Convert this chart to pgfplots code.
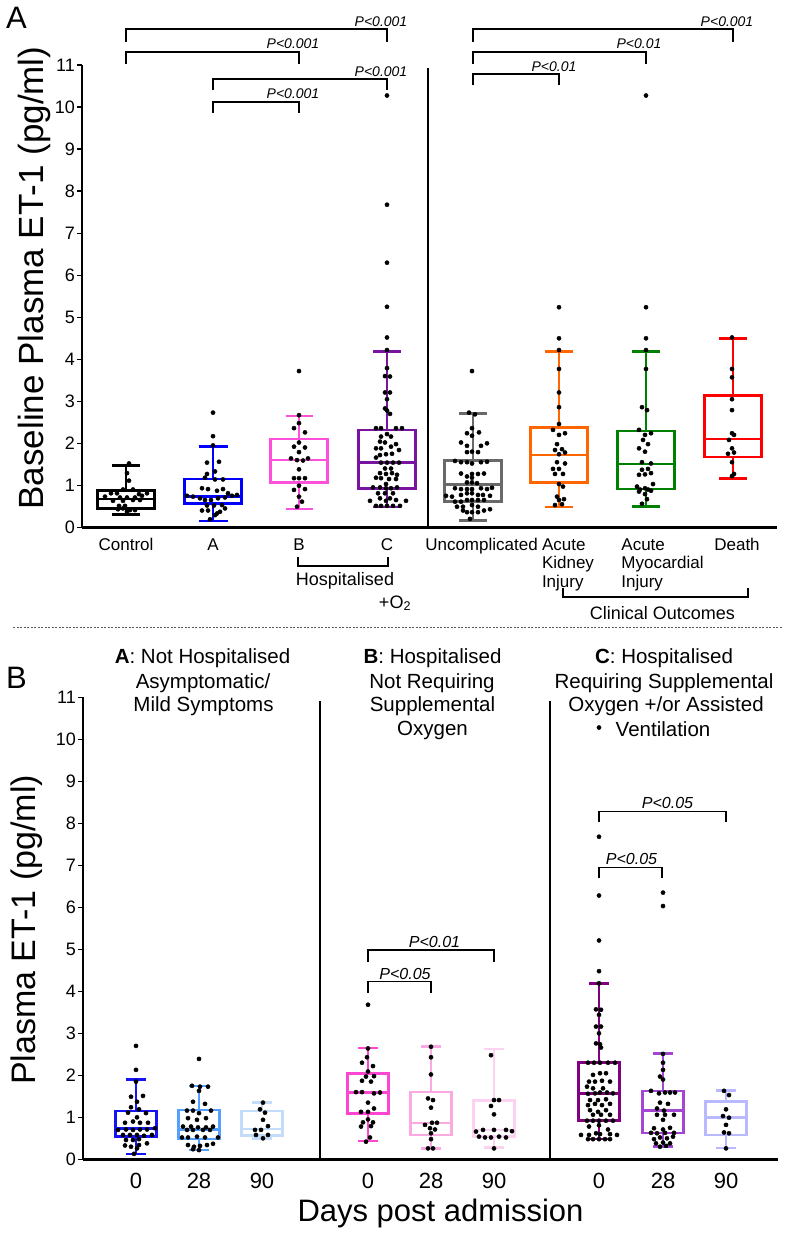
\documentclass[border=0pt]{standalone}
\usepackage{pgfplots}
\pgfplotsset{compat=1.18}
\usepackage{fontspec}
\setmainfont{Liberation Sans}
\newcommand{\fs}[2]{\fontsize{#1}{#2}\selectfont}
\definecolor{cA}{RGB}{0,0,255}
\definecolor{cB}{RGB}{255,80,220}
\definecolor{cC}{RGB}{120,20,160}
\definecolor{cUnc}{RGB}{105,105,105}
\definecolor{cAKI}{RGB}{255,102,0}
\definecolor{cAMI}{RGB}{0,128,0}
\definecolor{cDeath}{RGB}{255,0,0}
\definecolor{cAa}{RGB}{20,20,245}
\definecolor{cAb}{RGB}{85,160,255}
\definecolor{cAc}{RGB}{195,220,250}
\definecolor{cBa}{RGB}{255,70,210}
\definecolor{cBb}{RGB}{250,170,225}
\definecolor{cBc}{RGB}{252,210,240}
\definecolor{cCa}{RGB}{128,0,128}
\definecolor{cCb}{RGB}{165,70,210}
\definecolor{cCc}{RGB}{185,185,255}
\pgfplotsset{
  panel/.style={scale only axis, width=695pt, height=462pt, ymin=0, ymax=11,
    ytick={0,1,...,11}, axis x line*=bottom, axis y line*=left,
    axis line style={line width=2.5pt}, tick align=outside, major tick length=5pt,
    ytick style={line width=1.6pt, black}, xtick style={draw=none}, clip=false,
    /pgf/number format/assume math mode=true,
    yticklabel style={font=\fs{18}{20}, inner sep=2pt}},
  pts/.style={only marks, mark=*, mark size=2.1pt, black, mark options={solid, fill=black, draw=none}},
}
% box: #1 colour, #2 position, #3 box half width, #4 cap half width,
% #5 lower whisker, #6 lower quartile, #7 median, #8 upper quartile, #9 upper whisker
\newcommand{\bx}[9]{%
  \pgfmathsetmacro\bxL{#2-#3}\pgfmathsetmacro\bxR{#2+#3}%
  \pgfmathsetmacro\bxCL{#2-#4}\pgfmathsetmacro\bxCR{#2+#4}%
  \addplot[draw=#1, line width=2.6pt, line join=miter, line cap=rect, mark=none] coordinates {(\bxL,#6)(\bxR,#6)(\bxR,#8)(\bxL,#8)(\bxL,#6)};
  \addplot[draw=#1, line width=2.6pt, mark=none] coordinates {(\bxL,#7)(\bxR,#7)};
  \addplot[draw=#1, line width=2.6pt, mark=none] coordinates {(#2,#8)(#2,#9)};
  \addplot[draw=#1, line width=2.6pt, mark=none] coordinates {(#2,#6)(#2,#5)};
  \addplot[draw=#1, line width=2.6pt, mark=none] coordinates {(\bxCL,#9)(\bxCR,#9)};
  \addplot[draw=#1, line width=2.6pt, mark=none] coordinates {(\bxCL,#5)(\bxCR,#5)};
}
\begin{document}
\begin{tikzpicture}
\useasboundingbox (0pt,0pt) rectangle (787pt,-1233pt);
% ---------------- Panel A ----------------
\begin{axis}[panel, at={(82pt,-527.3pt)}, anchor=south west, xmin=82, xmax=777,
  xtick={126,213,299,387,473,559,646,733},
  xticklabels={Control, A, B, C, {\hspace*{17pt}Uncomplicated},
    {\hspace*{18pt}Acute\\\hspace*{18pt}Kidney\\\hspace*{18pt}Injury},
    {\hspace*{33pt}Acute\\\hspace*{33pt}Myocardial\\\hspace*{33pt}Injury},
    {\hspace*{8pt}Death}},
  xticklabel style={font=\fs{17}{18.5}, align=left, anchor=north, inner sep=0pt, yshift=-6pt}]
\bx{black}{126}{28.3}{14}{0.31}{0.45}{0.67}{0.87}{1.47}
\bx{cA}{213}{28.5}{14.5}{0.15}{0.57}{0.73}{1.15}{1.92}
\bx{cB}{299}{28.3}{13.5}{0.44}{1.06}{1.60}{2.10}{2.65}
\bx{cC}{387}{28.5}{14}{0.48}{0.92}{1.55}{2.32}{4.19}
\bx{cUnc}{473}{28.5}{14}{0.16}{0.61}{1.02}{1.59}{2.71}
\bx{cAKI}{559}{28.3}{14}{0.48}{1.07}{1.72}{2.37}{4.19}
\bx{cAMI}{646}{28.3}{14}{0.50}{0.91}{1.51}{2.29}{4.19}
\bx{cDeath}{733}{28.3}{14}{1.16}{1.67}{2.10}{3.14}{4.50}
% Control
\addplot[pts] coordinates {(129,1.52)(127,1.29)(129,1.11)(123,0.90)(133,0.90)(111,0.81)(117,0.81)(139,0.79)(147,0.81)(105,0.73)(120,0.71)(127,0.71)(135,0.71)(142,0.75)(113,0.63)(123,0.63)(133,0.65)(140,0.65)(119,0.51)(125,0.51)(118,0.43)(123,0.45)(130,0.41)(135,0.41)(127,0.37)};
% A
\addplot[pts] coordinates {(213,2.73)(213,2.17)(213,1.95)(207,1.54)(219,1.56)(215,1.33)(207,1.27)(205,1.18)(215,1.14)(223,1.14)(202,0.93)(208,0.91)(217,0.87)(223,0.91)(228,0.81)(187,0.75)(193,0.73)(200,0.69)(205,0.65)(211,0.65)(218,0.69)(225,0.71)(232,0.75)(237,0.77)(207,0.52)(214,0.52)(222,0.53)(202,0.40)(208,0.40)(217,0.33)(225,0.45)(215,0.29)(210,0.19)(220,0.37)};
% B
\addplot[pts] coordinates {(299,3.72)(299,2.67)(299,2.48)(294,2.36)(305,2.26)(299,2.02)(294,1.92)(305,1.90)(299,1.79)(291,1.64)(297,1.60)(303,1.59)(308,1.64)(299,1.38)(294,1.17)(299,1.17)(305,1.17)(299,0.99)(294,0.89)(305,0.91)(299,0.73)(302,0.61)(297,0.49)};
% C
\addplot[pts] coordinates {(387,10.28)(387,7.68)(387,6.30)(387,5.25)(387,4.52)(387,4.22)(387,3.79)(385,3.60)(390,3.59)(385,3.21)(390,3.21)(387,3.05)(385,2.83)(387,2.78)(390,2.70)(376,2.36)(381,2.36)(396,2.36)(402,2.36)(387,2.22)(391,2.16)(381,2.16)(380,2.04)(385,2.02)(396,1.98)(376,1.88)(381,1.88)(391,1.92)(399,1.84)(386,1.74)(380,1.72)(392,1.75)(376,1.66)(381,1.54)(387,1.54)(393,1.54)(399,1.54)(385,1.40)(391,1.40)(380,1.29)(386,1.27)(392,1.29)(397,1.25)(376,1.18)(381,1.17)(389,1.15)(396,1.15)(386,1.03)(373,0.95)(380,0.95)(386,0.93)(391,0.93)(397,0.95)(378,0.81)(385,0.81)(393,0.81)(380,0.69)(390,0.69)(370,0.63)(386,0.63)(396,0.65)(406,0.63)(376,0.51)(381,0.51)(387,0.51)(393,0.51)(400,0.51)};
% Uncomplicated
\addplot[pts] coordinates {(472,3.72)(469,2.73)(475,2.69)(472,2.36)(467,2.24)(472,2.18)(479,2.26)(461,2.02)(467,1.94)(481,1.94)(487,2.00)(472,1.80)(467,1.79)(478,1.79)(455,1.58)(461,1.55)(467,1.55)(472,1.52)(481,1.55)(487,1.56)(461,1.28)(467,1.21)(472,1.27)(478,1.27)(484,1.28)(467,1.07)(472,1.18)(472,1.07)(477,1.05)(455,0.93)(461,0.91)(467,0.91)(472,0.91)(481,0.93)(487,0.91)(492,0.94)(446,0.75)(452,0.73)(461,0.77)(467,0.81)(472,0.81)(478,0.77)(483,0.77)(490,0.75)(455,0.61)(461,0.61)(467,0.65)(472,0.65)(478,0.65)(484,0.65)(457,0.49)(463,0.49)(472,0.53)(478,0.49)(463,0.40)(467,0.36)(472,0.36)(478,0.36)(484,0.40)(490,0.43)(470,0.20)};
% AKI
\addplot[pts] coordinates {(559,5.24)(559,4.50)(559,4.22)(559,3.77)(559,3.21)(559,2.86)(559,2.46)(553,2.32)(559,2.20)(565,2.24)(557,1.98)(555,1.84)(562,1.86)(559,1.74)(565,1.78)(557,1.55)(553,1.39)(559,1.39)(565,1.52)(563,1.27)(555,1.27)(559,1.03)(563,0.97)(557,0.73)(559,0.65)(564,0.67)(555,0.53)(562,0.55)};
% AMI
\addplot[pts] coordinates {(646,10.28)(646,5.24)(646,4.50)(646,4.22)(646,3.77)(642,2.86)(647,2.79)(639,2.32)(645,2.20)(651,2.24)(643,2.08)(648,1.98)(639,1.88)(645,1.80)(642,1.55)(651,1.52)(642,1.37)(648,1.39)(639,1.25)(645,1.26)(651,1.29)(653,1.03)(637,0.97)(640,0.90)(645,0.93)(648,0.90)(651,0.87)(639,0.85)(645,0.79)(647,0.67)(642,0.56)};
% Death
\addplot[pts] coordinates {(732,4.52)(732,3.77)(732,3.57)(732,3.05)(732,2.79)(732,2.24)(734,2.20)(729,2.08)(732,1.88)(734,1.78)(728,1.75)(732,1.55)(734,1.27)(732,1.22)};
% separator
\draw[line width=2.7pt] (axis cs:428,0) -- (axis cs:428,10.93);
% brackets
\begin{scope}[line width=1.4pt]
\draw (axis cs:126,11.56) |- (axis cs:387,11.86) -- (axis cs:387,11.56);
\draw (axis cs:126,11.02) |- (axis cs:299,11.32) -- (axis cs:299,11.02);
\draw (axis cs:213,10.40) |- (axis cs:387,10.67) -- (axis cs:387,10.40);
\draw (axis cs:213,9.86) |- (axis cs:299,10.13) -- (axis cs:299,9.86);
\draw (axis cs:473,11.56) |- (axis cs:733,11.86) -- (axis cs:733,11.56);
\draw (axis cs:473,11.02) |- (axis cs:646,11.32) -- (axis cs:646,11.02);
\draw (axis cs:473,10.52) |- (axis cs:559,10.79) -- (axis cs:559,10.52);
\end{scope}
\node[anchor=base, yshift=3pt, inner sep=0pt, font=\itshape\fs{14}{16}] at (axis cs:381,11.86) {P<0.001};
\node[anchor=base, yshift=3pt, inner sep=0pt, font=\itshape\fs{14}{16}] at (axis cs:293,11.32) {P<0.001};
\node[anchor=base, yshift=3pt, inner sep=0pt, font=\itshape\fs{14}{16}] at (axis cs:381,10.67) {P<0.001};
\node[anchor=base, yshift=3pt, inner sep=0pt, font=\itshape\fs{14}{16}] at (axis cs:293,10.13) {P<0.001};
\node[anchor=base, yshift=3pt, inner sep=0pt, font=\itshape\fs{14}{16}] at (axis cs:727,11.86) {P<0.001};
\node[anchor=base, yshift=3pt, inner sep=0pt, font=\itshape\fs{14}{16}] at (axis cs:639,11.32) {P<0.01};
\node[anchor=base, yshift=3pt, inner sep=0pt, font=\itshape\fs{14}{16}] at (axis cs:554,10.79) {P<0.01};
\end{axis}
% ---------------- Panel B ----------------
\begin{axis}[panel, at={(83pt,-1159.3pt)}, anchor=south west, xmin=83, xmax=778,
  xtick={136,199,262,368,431,494,599,663,726},
  xticklabels={0,28,90,0,28,90,0,28,90},
  xticklabel style={font=\fs{22}{24}, anchor=base, inner sep=0pt, yshift=-24pt}]
\bx{cAa}{136}{20.3}{10}{0.13}{0.54}{0.73}{1.15}{1.90}
\bx{cAb}{199}{20.3}{10}{0.22}{0.48}{0.71}{1.17}{1.75}
\bx{cAc}{262}{20.3}{10}{0.50}{0.57}{0.72}{1.15}{1.35}
\bx{cBa}{368}{20.3}{10}{0.44}{1.09}{1.59}{2.04}{2.65}
\bx{cBb}{431}{20.3}{10}{0.26}{0.58}{0.86}{1.60}{2.68}
\bx{cBc}{494}{20.3}{10}{0.28}{0.54}{0.70}{1.40}{2.63}
\bx{cCa}{599}{20.3}{10}{0.48}{0.92}{1.57}{2.30}{4.19}
\bx{cCb}{663}{20.3}{10}{0.30}{0.63}{1.16}{1.63}{2.52}
\bx{cCc}{726}{20.3}{10}{0.27}{0.58}{1.00}{1.37}{1.64}
% A day 0, 28, 90
\addplot[pts] coordinates {(136,2.70)(136,2.13)(136,1.85)(131,1.49)(143,1.51)(137,1.37)(131,1.24)(139,1.19)(128,1.11)(146,1.10)(137,1.00)(125,0.87)(133,0.90)(140,0.87)(148,0.87)(118,0.70)(126,0.71)(133,0.70)(140,0.71)(147,0.71)(155,0.74)(123,0.58)(130,0.58)(137,0.58)(144,0.56)(152,0.58)(126,0.46)(133,0.46)(139,0.48)(125,0.33)(131,0.30)(139,0.34)(147,0.38)(137,0.26)(134,0.13)};
\addplot[pts] coordinates {(199,2.39)(192,1.75)(200,1.73)(208,1.73)(199,1.63)(193,1.37)(205,1.32)(187,1.16)(193,1.16)(199,1.10)(211,1.16)(188,0.98)(197,0.94)(206,0.98)(183,0.78)(191,0.78)(198,0.76)(206,0.76)(213,0.78)(187,0.70)(193,0.70)(203,0.70)(210,0.70)(182,0.52)(188,0.52)(197,0.54)(205,0.52)(218,0.52)(188,0.34)(194,0.30)(200,0.32)(207,0.34)(213,0.37)(193,0.24)(199,0.22)};
\addplot[pts] coordinates {(263,1.35)(260,1.19)(265,1.11)(263,0.94)(255,0.70)(261,0.70)(268,0.79)(256,0.58)(263,0.50)(268,0.58)};
% B day 0, 28, 90
\addplot[pts] coordinates {(368,3.68)(368,2.64)(367,2.43)(362,2.30)(373,2.22)(368,2.09)(366,1.97)(374,1.98)(362,1.87)(371,1.85)(356,1.60)(362,1.60)(374,1.57)(380,1.59)(368,1.35)(361,1.13)(368,1.13)(374,1.21)(368,0.95)(363,0.88)(373,0.88)(361,0.78)(371,0.79)(370,0.52)(366,0.42)};
\addplot[pts] coordinates {(431,2.68)(431,2.43)(431,2.02)(428,1.45)(433,1.41)(431,1.23)(425,0.82)(432,0.87)(437,0.87)(430,0.74)(435,0.71)(431,0.62)(431,0.48)(428,0.26)(433,0.26)};
\addplot[pts] coordinates {(491,2.48)(494,1.41)(499,1.41)(491,1.27)(494,1.07)(476,0.66)(483,0.70)(494,0.70)(506,0.70)(512,0.67)(479,0.54)(485,0.52)(491,0.52)(499,0.54)(506,0.52)(494,0.26)};
% C day 0, 28, 90
\addplot[pts] coordinates {(599,10.28)(599,7.68)(599,6.28)(599,5.21)(599,4.48)(599,4.19)(596,3.57)(601,3.56)(599,3.44)(596,3.16)(601,3.16)(599,3.00)(596,2.76)(600,2.74)(601,2.66)(588,2.30)(594,2.30)(600,2.30)(608,2.30)(615,2.30)(593,2.01)(600,2.05)(606,2.05)(589,1.85)(595,1.85)(602,1.87)(610,1.85)(587,1.73)(593,1.69)(603,1.69)(588,1.56)(595,1.57)(600,1.59)(607,1.59)(613,1.57)(590,1.41)(598,1.41)(606,1.43)(588,1.29)(595,1.32)(602,1.29)(610,1.32)(590,1.17)(598,1.13)(606,1.17)(593,1.06)(601,1.06)(610,1.06)(587,0.92)(593,0.92)(599,0.92)(606,0.92)(613,0.92)(589,0.78)(599,0.81)(608,0.71)(581,0.58)(589,0.58)(596,0.62)(600,0.60)(610,0.60)(617,0.58)(588,0.48)(593,0.48)(599,0.48)(605,0.48)(610,0.48)};
\addplot[pts] coordinates {(663,6.35)(663,6.03)(663,2.51)(663,2.30)(663,2.13)(660,1.97)(663,1.90)(651,1.63)(659,1.57)(665,1.59)(670,1.59)(675,1.59)(660,1.35)(668,1.32)(657,1.21)(664,1.16)(657,1.06)(665,1.06)(674,1.06)(663,0.94)(654,0.74)(663,0.71)(670,0.75)(651,0.63)(657,0.62)(665,0.63)(674,0.63)(654,0.48)(660,0.52)(667,0.50)(673,0.54)(656,0.38)(663,0.40)(670,0.38)(660,0.30)(666,0.32)};
\addplot[pts] coordinates {(724,1.63)(729,1.53)(726,1.19)(723,1.03)(729,0.99)(726,0.82)(724,0.64)(729,0.62)(726,0.26)};
% separators
\draw[line width=2.7pt] (axis cs:320,0) -- (axis cs:320,10.91);
\draw[line width=2.7pt] (axis cs:550,0) -- (axis cs:550,10.91);
% brackets
\begin{scope}[line width=1.4pt]
\draw (axis cs:368,3.96) |- (axis cs:431,4.23) -- (axis cs:431,3.96);
\draw (axis cs:368,4.70) |- (axis cs:494,4.98) -- (axis cs:494,4.70);
\draw (axis cs:599,6.69) |- (axis cs:662,6.95) -- (axis cs:662,6.69);
\draw (axis cs:599,8.04) |- (axis cs:726,8.28) -- (axis cs:726,8.04);
\end{scope}
\node[anchor=base, yshift=2pt, inner sep=0pt, font=\itshape\fs{16}{18}] at (axis cs:405,4.23) {P<0.05};
\node[anchor=base, yshift=3pt, inner sep=0pt, font=\itshape\fs{16}{18}] at (axis cs:434.5,4.98) {P<0.01};
\node[anchor=base, yshift=3pt, inner sep=0pt, font=\itshape\fs{16}{18}] at (axis cs:631.5,6.95) {P<0.05};
\node[anchor=base, yshift=3pt, inner sep=0pt, font=\itshape\fs{16}{18}] at (axis cs:667.5,8.28) {P<0.05};
\end{axis}
% ---------------- annotations ----------------
\node[anchor=base, font=\fs{31}{34}, inner sep=0pt] at (16.5pt,-29pt) {A};
\node[anchor=base, font=\fs{31}{34}, inner sep=0pt] at (16.5pt,-688pt) {B};
\node[anchor=base, rotate=90, font=\fs{35}{38}, inner sep=0pt] at (43pt,-278pt) {Baseline Plasma ET-1 (pg/ml)};
\node[anchor=base, rotate=90, font=\fs{34}{37}, inner sep=0pt] at (35pt,-930pt) {Plasma ET-1 (pg/ml)};
\node[anchor=base, font=\fs{31}{34}, inner sep=0pt] at (440.5pt,-1221.7pt) {Days post admission};
\draw[line width=1.6pt] (298pt,-556.7pt) |- (388pt,-565.7pt) -- (388pt,-556.7pt);
\node[anchor=base, font=\fs{18}{20}, inner sep=0pt] at (345pt,-585.7pt) {Hospitalised};
\node[anchor=base, font=\fs{18}{20}, inner sep=0pt] at (395pt,-608pt) {+O\textsubscript{2}};
\draw[line width=1.6pt] (562.7pt,-588pt) |- (748pt,-596.7pt) -- (748pt,-588pt);
\node[anchor=base, font=\fs{18}{20}, inner sep=0pt] at (662.5pt,-619pt) {Clinical Outcomes};
\draw[gray!70!black, line width=0.8pt, dash pattern=on 2pt off 1.5pt] (13pt,-627pt) -- (783pt,-627pt);
\node[anchor=base, inner sep=0pt, font=\fs{20.5}{24}] at (202.5pt,-663.3pt) {\textbf{A}: Not Hospitalised};
\node[anchor=base, inner sep=0pt, font=\fs{20.5}{24}] at (203pt,-688pt) {Asymptomatic/};
\node[anchor=base, inner sep=0pt, font=\fs{20.5}{24}] at (203.5pt,-711.7pt) {Mild Symptoms};
\node[anchor=base, inner sep=0pt, font=\fs{20.5}{24}] at (432.5pt,-663.3pt) {\textbf{B}: Hospitalised};
\node[anchor=base, inner sep=0pt, font=\fs{20.5}{24}] at (432pt,-688pt) {Not Requiring};
\node[anchor=base, inner sep=0pt, font=\fs{20.5}{24}] at (432.5pt,-711.7pt) {Supplemental};
\node[anchor=base, inner sep=0pt, font=\fs{20.5}{24}] at (432.5pt,-735.5pt) {Oxygen};
\node[anchor=base, inner sep=0pt, font=\fs{20.5}{24}] at (664pt,-663.3pt) {\textbf{C}: Hospitalised};
\node[anchor=base, inner sep=0pt, font=\fs{20.5}{24}] at (664pt,-688pt) {Requiring Supplemental};
\node[anchor=base, inner sep=0pt, font=\fs{20.5}{24}] at (666pt,-711.7pt) {Oxygen +/or Assisted};
\node[anchor=base, inner sep=0pt, font=\fs{20.5}{24}] at (663pt,-736pt) {Ventilation};
\end{tikzpicture}
\end{document}
